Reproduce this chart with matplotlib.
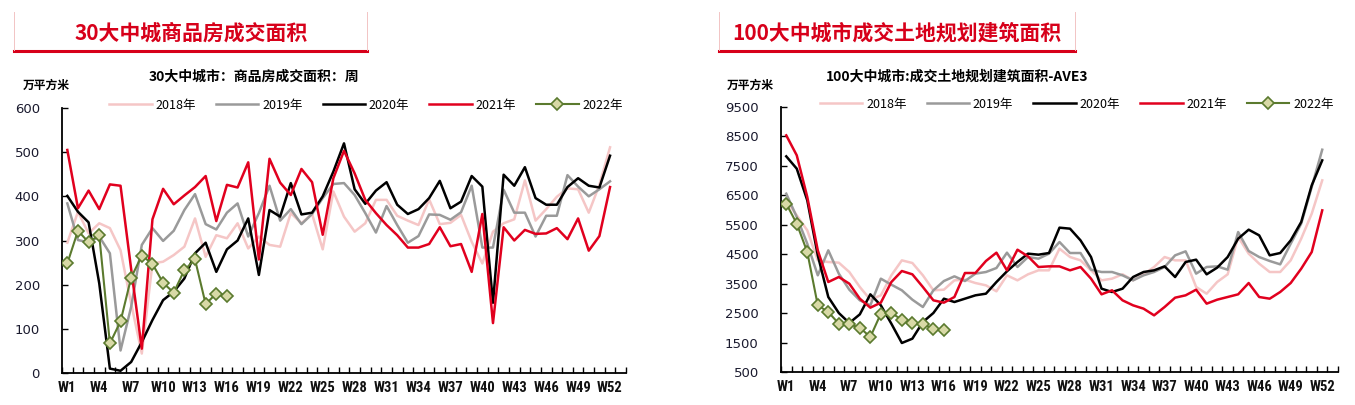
import numpy as np
import matplotlib
matplotlib.use("Agg")
import matplotlib.pyplot as plt
from matplotlib.lines import Line2D
from matplotlib import font_manager

plt.rcParams['font.family'] = ['Noto Sans CJK SC', 'DejaVu Sans']

# ---- data ----
weeks = ["W%d" % i for i in range(1, 54)]
years = ["2018年", "2019年", "2020年", "2021年", "2022年"]

# 30大中城 商品房成交面积 (万平方米)
sale_2018 = [295, 365, 316, 339, 328, 278, 157, 44, 248, 252, 267, 286, 350, 263, 312, 305, 339, 282,
             309, 290, 286, 362, 339, 360, 280, 411, 354, 320, 339, 392, 392, 356, 345, 335, 393, 337,
             340, 358, 297, 248, 320, 339, 348, 436, 345, 371, 399, 418, 416, 363, 426, 511]
sale_2019 = [384, 301, 296, 309, 271, 51, 150, 290, 328, 299, 322, 369, 405, 337, 325, 363, 384, 309,
             362, 424, 345, 371, 337, 360, 396, 428, 430, 403, 362, 318, 378, 335, 295, 310, 359, 358,
             347, 364, 424, 284, 284, 415, 363, 363, 309, 356, 356, 448, 422, 400, 416, 434]
sale_2020 = [401, 365, 341, 203, 10, 5, 25, 70, 120, 165, 184, 214, 271, 295, 229, 280, 300, 350,
             222, 369, 354, 430, 359, 363, 400, 456, 520, 416, 383, 413, 432, 381, 360, 371, 396, 435,
             373, 388, 446, 422, 159, 449, 424, 466, 396, 381, 381, 421, 441, 424, 420, 492]
sale_2021 = [505, 373, 413, 371, 427, 424, 235, 55, 348, 417, 382, 402, 421, 446, 344, 426, 420, 477,
             257, 485, 431, 403, 462, 432, 313, 441, 503, 452, 392, 362, 335, 312, 284, 284, 292, 330,
             287, 292, 229, 360, 113, 330, 300, 324, 315, 316, 328, 303, 350, 277, 310, 421]
sale_2022 = [248, 322, 296, 312, 67, 117, 216, 266, 247, 204, 182, 233, 257, 156, 180, 175]

# 100大中城市 成交土地规划建筑面积 AVE3 (万平方米)
land_2018 = [6330, 5820, 5311, 4292, 4236, 4213, 3896, 3387, 2956, 3104, 3783, 4292, 4202, 3783, 3274,
             3296, 3613, 3636, 3522, 3443, 3240, 3783, 3613, 3817, 3953, 3953, 4688, 4405, 4292, 3953,
             3613, 3670, 3817, 3613, 3817, 4066, 4405, 4292, 4292, 3387, 3160, 3556, 3817, 5085, 4519,
             4179, 3896, 3896, 4292, 5028, 5877, 7009]
land_2019 = [6556, 5764, 4858, 3783, 4632, 3840, 3296, 2934, 2764, 3670, 3466, 3274, 2956, 2707, 3274,
             3590, 3749, 3590, 3840, 3896, 4032, 4553, 4066, 4405, 4349, 4519, 4915, 4541, 4541, 3975,
             3896, 3896, 3783, 3613, 3783, 3896, 4066, 4462, 4598, 3840, 4066, 4088, 3975, 5254, 4609,
             4405, 4270, 4156, 4858, 5537, 6783, 8050]
land_2020 = [7824, 7405, 6330, 4462, 3047, 2504, 2164, 2458, 3138, 2764, 2141, 1485, 1632, 2198, 2504,
             2990, 2877, 2990, 3104, 3160, 3556, 3919, 4236, 4519, 4485, 4541, 5402, 5368, 4971, 4405,
             3330, 3217, 3330, 3726, 3896, 3953, 4088, 3726, 4236, 4315, 3817, 4043, 4405, 5028, 5334,
             5141, 4462, 4541, 4971, 5594, 6839, 7688]
land_2021 = [8537, 7858, 6443, 4632, 3556, 3726, 3500, 2990, 2685, 2855, 3556, 3930, 3817, 3387, 2934,
             2855, 3047, 3862, 3862, 4270, 4553, 3953, 4654, 4428, 4066, 4088, 4088, 3953, 4066, 3670,
             3138, 3274, 2934, 2764, 2651, 2424, 2707, 3024, 3104, 3296, 2821, 2956, 3047, 3138, 3522,
             3047, 2990, 3217, 3522, 4009, 4575, 5990]
land_2022 = [6217, 5537, 4575, 2764, 2538, 2141, 2119, 2006, 1689, 2481, 2504, 2277, 2164, 2119, 1972, 1915]

colors = ['#F5C6C6', '#9A9A9A', '#000000', '#E1001E', '#5B7A2E']
widths = [1.8, 1.8, 1.8, 1.8, 1.5]

# narrow font for week labels, if one is around
installed = {f.name for f in font_manager.fontManager.ttflist}
narrow = [n for n in ('Liberation Sans Narrow', 'Roboto Condensed', 'Open Sans Condensed',
                      'DejaVu Sans Condensed', 'Roboto') if n in installed]
tick_family = narrow + ['DejaVu Sans']

fig = plt.figure(figsize=(13.55, 4.05), dpi=100)
W, H = 1355.0, 405.0


def header(x0, x1, text, tx):
    fig.add_artist(Line2D([x0 / W, x1 / W], [1 - 51 / H, 1 - 51 / H], color='#D7001A', lw=2.2))
    for xx in (x0, x1):
        fig.add_artist(Line2D([xx / W, xx / W], [1 - 12 / H, 1 - 50 / H], color='#F2C4C4', lw=0.7))
    fig.text(tx / W, 1 - 33 / H, text, color='#D7001A', fontsize=15, fontweight='bold',
             ha='center', va='center')


def draw(rect, series, ylim, yticks, subtitle, sub_x, unit_x, leg_x):
    ax = fig.add_axes(rect)
    x = np.arange(len(weeks))
    for i, s in enumerate(series):
        if i == 4:
            ax.plot(x[:len(s)], s, color=colors[i], lw=widths[i], marker='D', markersize=6,
                    markerfacecolor='#D8D9A6', markeredgecolor=colors[i], markeredgewidth=1.2,
                    label=years[i], zorder=5)
        else:
            ax.plot(x[:len(s)], s, color=colors[i], lw=widths[i], label=years[i], zorder=2 + i)
    ax.set_xlim(-0.5, len(weeks) - 0.5)
    ax.set_ylim(*ylim)
    ax.set_yticks(yticks)
    ax.set_xticks(x[::3])
    ax.set_xticklabels(weeks[::3])
    ax.set_xticks(np.arange(-0.5, len(weeks), 1), minor=True)
    ax.tick_params(axis='x', which='major', length=0, pad=6, labelsize=10.5, labelcolor='#111111')
    ax.tick_params(axis='x', which='minor', direction='in', length=4, width=1)
    ax.tick_params(axis='y', direction='in', length=4, width=1, pad=16, labelsize=10,
                   labelcolor='#1a1a2e')
    for lab in ax.get_xticklabels():
        lab.set_fontweight('bold')
        lab.set_family(tick_family)
    for lab in ax.get_yticklabels():
        lab.set_family(['DejaVu Sans'])
        lab.set_fontsize(9.5)
    for sp in ('top', 'right'):
        ax.spines[sp].set_visible(False)
    for sp in ('left', 'bottom'):
        ax.spines[sp].set_linewidth(1.3)
    ax.legend(loc='center', bbox_to_anchor=(leg_x, 1.01), ncol=5, frameon=False, fontsize=9,
              handlelength=3.4, columnspacing=1.6, handletextpad=0.3, borderaxespad=0)
    fig.text(sub_x / W, 1 - 77 / H, subtitle, fontsize=10, fontweight='bold', ha='center', va='center')
    fig.text(unit_x / W, 1 - 85 / H, '万平方米', fontsize=8.5, fontweight='bold', ha='left', va='center')
    return ax


header(14, 367, '30大中城商品房成交面积', 191)
header(719, 1075, '100大中城市成交土地规划建筑面积', 897)

draw([62 / W, 1 - 373 / H, 564 / W, 265 / H],
     [sale_2018, sale_2019, sale_2020, sale_2021, sale_2022],
     (0, 600), np.arange(0, 601, 100), '30大中城市：商品房成交面积：周', 254, 23, 0.539)
draw([781 / W, 1 - 372 / H, 557 / W, 265 / H],
     [land_2018, land_2019, land_2020, land_2021, land_2022],
     (500, 9500), np.arange(500, 9501, 1000), '100大中城市:成交土地规划建筑面积-AVE3', 957, 727, 0.531)

fig.savefig('out.png', dpi=100)
